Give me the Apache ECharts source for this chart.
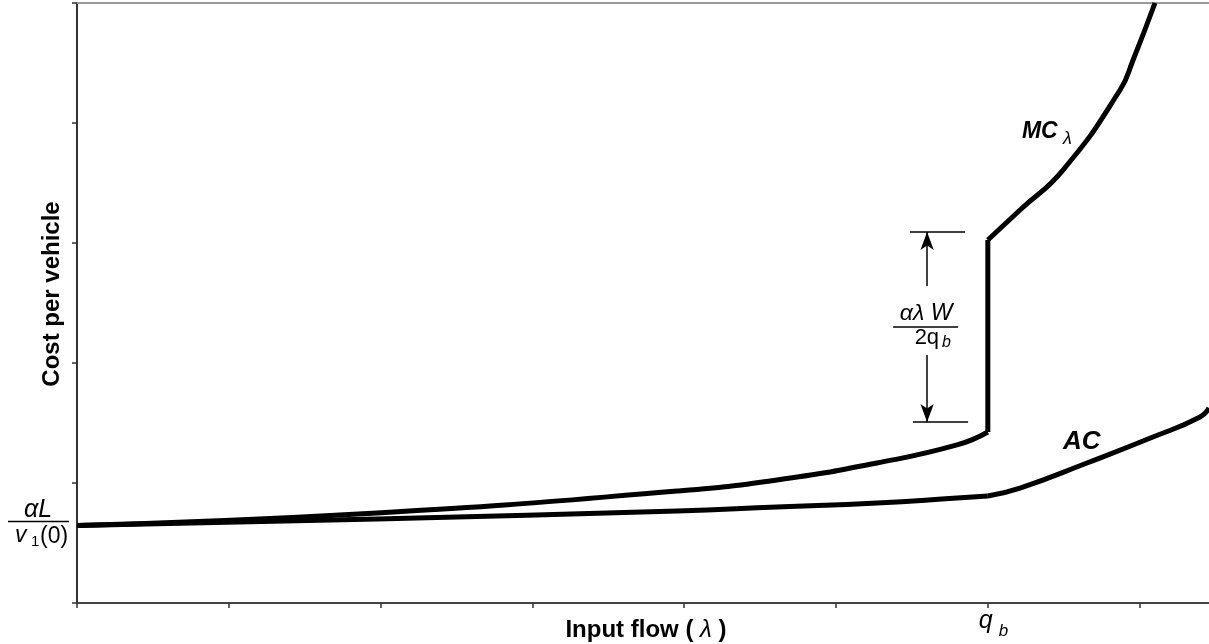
<!DOCTYPE html>
<html><head><meta charset="utf-8">
<script src="https://cdn.jsdelivr.net/npm/echarts@6/dist/echarts.min.js"></script>
<style>html,body{margin:0;padding:0;background:#fff}#c{width:1209px;height:644px}</style>
</head><body><div id="c"></div>
<script>
// ---- data (axis units: x tick = 1, y tick = 1) ----
const xTicks = [0, 1, 2, 3, 4, 5, 6, 7];
const yTicks = [0, 1, 2, 3, 4, 5];
const xMax = 7.457;
const yMax = 5;
const mcLow  = [[0,0.646],[1.976,0.75],[3.953,0.933],[4.611,1.025],[5.270,1.167],[5.797,1.317],[6.0,1.425]];
const mcJump = [[6.0,1.425],[6.0,3.025]];
const mcHigh = [[6.0,3.025],[6.212,3.275],[6.495,3.608],[6.871,4.275],[6.957,4.525],[7.101,5.0]];
const acLow  = [[0,0.646],[1.976,0.70],[3.953,0.767],[4.611,0.80],[5.270,0.833],[5.797,0.875],[6.0,0.892]];
const acHigh = [[6.0,0.892],[6.212,0.958],[6.653,1.167],[7.088,1.383],[7.398,1.55],[7.457,1.625]];
const qb = 6;            // q_b position on x axis
const intercept = 0.646; // alpha L / v1(0)
const gapX = 5.6;        // x of the dimension arrow
const gapTop = 3.092, gapBottom = 1.508;
const gapBarsTop = [5.487, 5.850];
const gapBarsBottom = [5.507, 5.870];
const gapArrowUpFrom = 2.642, gapArrowDownFrom = 2.067;

const FONT = "'Liberation Sans', Arial, sans-serif";
const chart = echarts.init(document.getElementById('c'), null, {renderer: 'canvas'});

const lineSeries = (data, smooth) => ({
  type: 'line', data, showSymbol: false, smooth: smooth, silent: true,
  lineStyle: {color: '#000', width: 5, join: 'miter', cap: 'butt'}, z: 3
});

const thin = {color: '#000', width: 1.5, type: 'solid'};
const option = {
  animation: false,
  backgroundColor: '#fff',
  grid: {left: 77, right: 0, top: 3, bottom: 41, containLabel: false, outerBoundsMode: 'none'},
  xAxis: [{
    type: 'value', min: 0, max: xMax, interval: 1,
    axisLine: {show: true, onZero: false, lineStyle: {color: '#444', width: 2}},
    axisTick: {show: true, length: 5, customValues: xTicks, lineStyle: {color: '#333', width: 1.5}},
    axisLabel: {show: false}, splitLine: {show: false}
  }, {
    type: 'value', position: 'top', min: 0, max: xMax,
    axisLine: {show: true, onZero: false, lineStyle: {color: '#999', width: 2}},
    axisTick: {show: false}, axisLabel: {show: false}, splitLine: {show: false}
  }],
  yAxis: {
    type: 'value', min: 0, max: yMax, interval: 1,
    axisLine: {show: true, onZero: false, lineStyle: {color: '#333', width: 2}},
    axisTick: {show: true, length: 5, customValues: yTicks, lineStyle: {color: '#333', width: 1.5}},
    axisLabel: {show: false}, splitLine: {show: false}
  },
  series: [
    lineSeries(mcLow, 0.5),
    Object.assign(lineSeries(mcJump, false), {
      markLine: {
        silent: true, animation: false, symbol: ['none', 'none'],
        label: {show: false}, lineStyle: thin, emphasis: {disabled: true},
        data: [
          [{coord: [gapBarsTop[0], gapTop]}, {coord: [gapBarsTop[1], gapTop]}],
          [{coord: [gapBarsBottom[0], gapBottom]}, {coord: [gapBarsBottom[1], gapBottom]}],
          [{coord: [gapX, gapArrowUpFrom]}, {coord: [gapX, gapTop], symbol: 'arrow', symbolSize: [10, 18]}],
          [{coord: [gapX, gapArrowDownFrom]}, {coord: [gapX, gapBottom], symbol: 'arrow', symbolSize: [10, 18]}]
        ]
      }
    }),
    lineSeries(mcHigh, 0.5),
    lineSeries(acLow, 0.5),
    lineSeries(acHigh, 0.5)
  ]
};
chart.setOption(option);

const P = (x, y) => chart.convertToPixel({xAxisIndex: 0, yAxisIndex: 0}, [x, y]);
const txt = (text, x, y, size, opts) => ({
  type: 'text', silent: true, z: 10,
  style: {text, x, y, fill: '#000', font: (opts && opts.font) || ('italic ' + size + 'px ' + FONT),
    align: (opts && opts.align) || 'left', verticalAlign: 'middle'}
});

const o = P(0, intercept);
const ax = o[0], iy = o[1];
const g = P(gapX, (gapTop + gapBottom) / 2);
const q = P(qb, 0);
const mcA = P(mcHigh[2][0], mcHigh[2][1]);
const acA = P(acHigh[2][0], acHigh[2][1]);
const yTop = P(0, yMax)[1], yBot = P(0, 0)[1];
const xRight = P(xMax, 0)[0];

const graphics = [
  // left intercept label  alpha L / v1(0)
  txt('αL', ax - 39, iy - 15, 25, {align: 'center'}),
  {type: 'line', silent: true, shape: {x1: ax - 69, y1: iy - 4, x2: ax - 8, y2: iy - 4}, style: {stroke: '#000', lineWidth: 1.5}},
  txt('v', ax - 62, iy + 10, 23),
  txt('1', ax - 46, iy + 16, 15, {font: '15px ' + FONT}),
  txt('(0)', ax - 37, iy + 11, 23, {font: '23px ' + FONT}),
  // gap fraction  alpha lambda W / 2 q_b
  txt('αλ W', g[0] - 1, g[1] - 13, 23, {align: 'center'}),
  {type: 'line', silent: true, shape: {x1: g[0] - 34, y1: g[1], x2: g[0] + 31, y2: g[1]}, style: {stroke: '#000', lineWidth: 1.5}},
  txt('2q', g[0] + 12, g[1] + 11, 22, {align: 'right', font: '22px ' + FONT}),
  txt('b', g[0] + 15, g[1] + 16, 16),
  // MC lambda label
  txt('MC', mcA[0] - 41, mcA[1] - 38, 23, {font: 'italic bold 23px ' + FONT}),
  txt('λ', mcA[0], mcA[1] - 31, 18),
  // AC label
  txt('AC', acA[0] - 24, acA[1] - 21, 26, {font: 'italic bold 26px ' + FONT}),
  // q_b tick label
  txt('q', q[0] - 9, q[1] + 18, 25),
  txt('b', q[0] + 11, q[1] + 28, 17),
  // axis titles
  {type: 'text', silent: true, z: 10,
   style: {text: '{b|Input flow (}{l| λ }{b|)}', x: (ax + xRight) / 2 + 3, y: yBot + 27, align: 'center', verticalAlign: 'middle',
     rich: {b: {font: 'bold 24px ' + FONT, fill: '#000'}, l: {font: 'italic 24px ' + FONT, fill: '#000'}}}},
  {type: 'text', silent: true, z: 10, x: 52, y: (yTop + yBot) / 2 - 9, rotation: Math.PI / 2,
   style: {text: 'Cost per vehicle', x: 0, y: 0, align: 'center', verticalAlign: 'middle', font: 'bold 24px ' + FONT, fill: '#000'}}
];
chart.setOption({graphic: graphics});
</script>
</body></html>
